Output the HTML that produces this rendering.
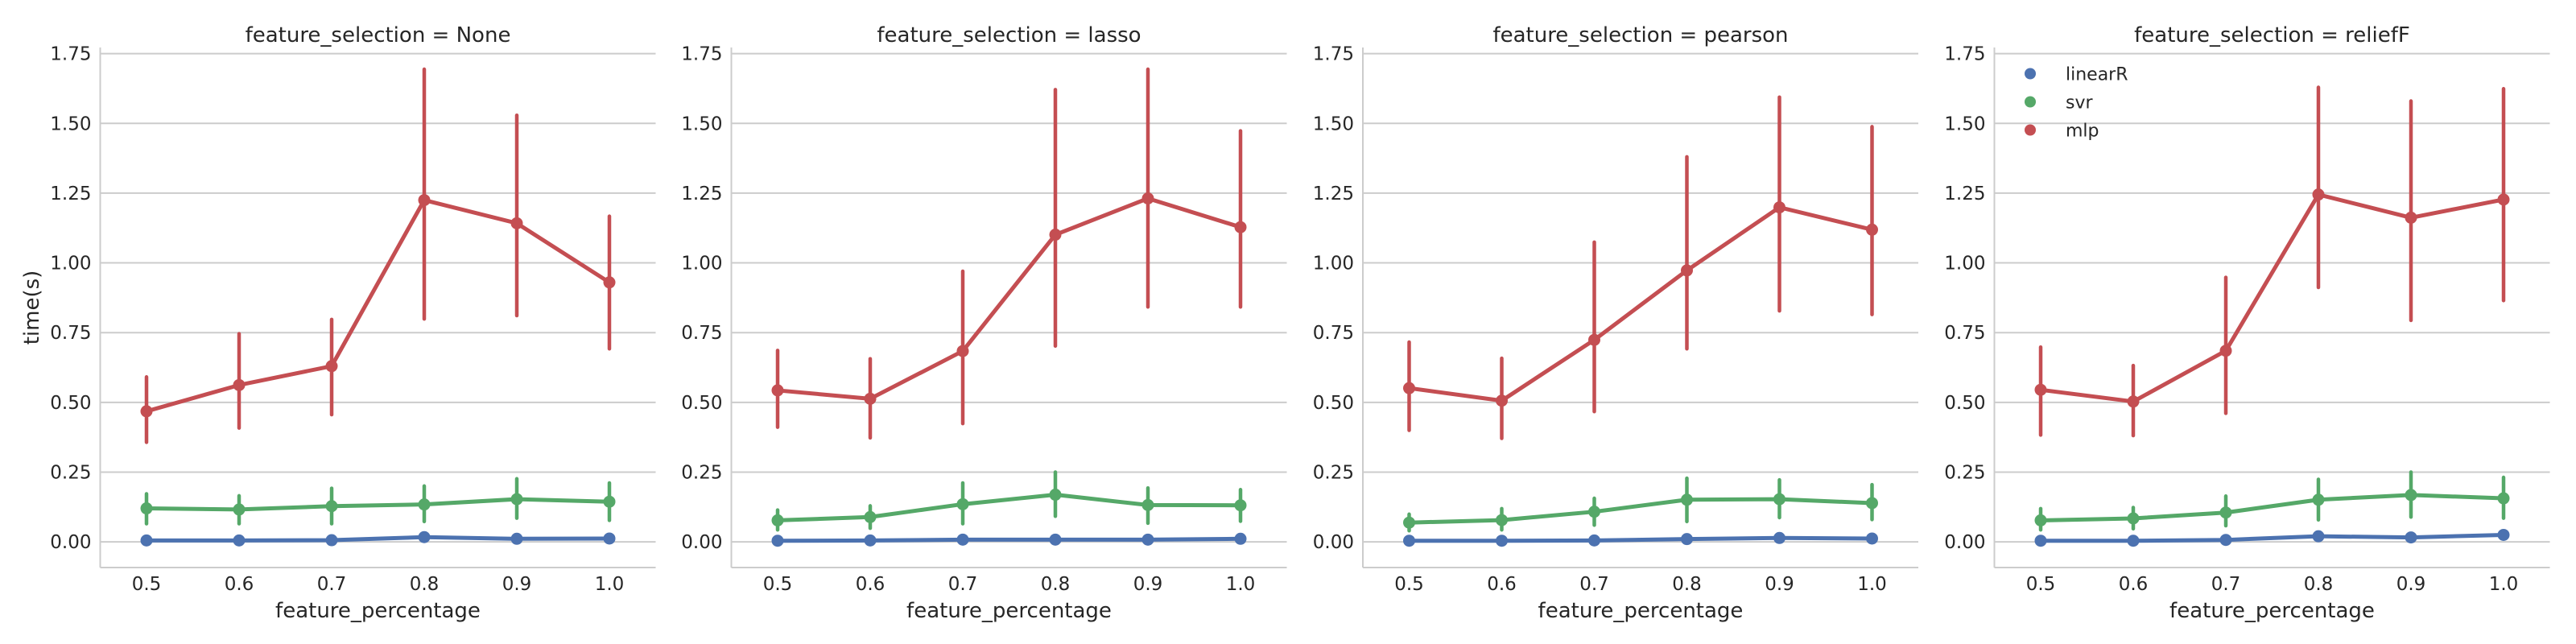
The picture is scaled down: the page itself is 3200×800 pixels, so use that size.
<!DOCTYPE html>
<html><head><meta charset="utf-8">
<style>
html,body{margin:0;padding:0;background:#fff;}
svg{display:block;font-family:"DejaVu Sans","Liberation Sans",sans-serif;}
</style></head>
<body>
<svg id="chart" width="3200" height="800" viewBox="0 0 3200 800" xmlns="http://www.w3.org/2000/svg"></svg>
<script>
const categories = ["0.5","0.6","0.7","0.8","0.9","1.0"];
const panelTitles = ["feature_selection = None","feature_selection = lasso","feature_selection = pearson","feature_selection = reliefF"];
const seriesNames = ["linearR","svr","mlp"];
const yTicks = [0,0.25,0.5,0.75,1.0,1.25,1.5,1.75];
const yTickLabels = ["0.00","0.25","0.50","0.75","1.00","1.25","1.50","1.75"];

// panel None
const p0_linearR = [0.005,0.005,0.006,0.017,0.011,0.012];
const p0_svr = [0.120,0.116,0.128,0.134,0.153,0.144];
const p0_svr_lo = [0.065,0.065,0.065,0.073,0.085,0.077];
const p0_svr_hi = [0.172,0.165,0.192,0.200,0.226,0.211];
const p0_mlp = [0.468,0.562,0.630,1.225,1.142,0.930];
const p0_mlp_lo = [0.357,0.408,0.456,0.799,0.811,0.692];
const p0_mlp_hi = [0.591,0.746,0.797,1.694,1.529,1.167];
// panel lasso
const p1_linearR = [0.004,0.005,0.008,0.008,0.008,0.011];
const p1_svr = [0.077,0.089,0.135,0.169,0.132,0.131];
const p1_svr_lo = [0.043,0.049,0.065,0.092,0.067,0.074];
const p1_svr_hi = [0.114,0.129,0.211,0.250,0.193,0.187];
const p1_mlp = [0.543,0.513,0.684,1.101,1.231,1.128];
const p1_mlp_lo = [0.411,0.373,0.424,0.702,0.842,0.842];
const p1_mlp_hi = [0.686,0.656,0.970,1.621,1.694,1.473];
// panel pearson
const p2_linearR = [0.004,0.004,0.005,0.010,0.014,0.012];
const p2_svr = [0.069,0.078,0.108,0.151,0.153,0.139];
const p2_svr_lo = [0.040,0.043,0.060,0.073,0.087,0.080];
const p2_svr_hi = [0.099,0.119,0.156,0.228,0.222,0.205];
const p2_mlp = [0.551,0.506,0.724,0.973,1.199,1.119];
const p2_mlp_lo = [0.400,0.371,0.467,0.692,0.828,0.815];
const p2_mlp_hi = [0.716,0.658,1.074,1.380,1.594,1.488];
// panel reliefF
const p3_linearR = [0.004,0.004,0.007,0.020,0.016,0.025];
const p3_svr = [0.077,0.084,0.105,0.151,0.168,0.156];
const p3_svr_lo = [0.043,0.047,0.058,0.079,0.089,0.085];
const p3_svr_hi = [0.119,0.123,0.164,0.224,0.250,0.231];
const p3_mlp = [0.545,0.503,0.685,1.245,1.162,1.227];
const p3_mlp_lo = [0.383,0.381,0.461,0.912,0.794,0.865];
const p3_mlp_hi = [0.698,0.632,0.948,1.629,1.580,1.624];

const panels = [
  {lin:p0_linearR, svr:p0_svr, svrLo:p0_svr_lo, svrHi:p0_svr_hi, mlp:p0_mlp, mlpLo:p0_mlp_lo, mlpHi:p0_mlp_hi},
  {lin:p1_linearR, svr:p1_svr, svrLo:p1_svr_lo, svrHi:p1_svr_hi, mlp:p1_mlp, mlpLo:p1_mlp_lo, mlpHi:p1_mlp_hi},
  {lin:p2_linearR, svr:p2_svr, svrLo:p2_svr_lo, svrHi:p2_svr_hi, mlp:p2_mlp, mlpLo:p2_mlp_lo, mlpHi:p2_mlp_hi},
  {lin:p3_linearR, svr:p3_svr, svrLo:p3_svr_lo, svrHi:p3_svr_hi, mlp:p3_mlp, mlpLo:p3_mlp_lo, mlpHi:p3_mlp_hi}
];

const svg = document.getElementById('chart');
const NS = 'http://www.w3.org/2000/svg';
const colors = {linearR:'#4C72B0', svr:'#55A868', mlp:'#C44E52'};
const panelLeft = [124.5, 908.5, 1693, 2477.5];
const panelW = 690, axTop = 59, axBottom = 705;
const yMin = -0.092, yMax = 1.772;
function yScale(v){ return axBottom - (v - yMin) / (yMax - yMin) * (axBottom - axTop); }
function xScale(p, i){ const step = panelW / categories.length; return panelLeft[p] + step * (i + 0.5); }
function mk(tag, attrs, parent){ const e = document.createElementNS(NS, tag); for (const k in attrs) e.setAttribute(k, attrs[k]); (parent||svg).appendChild(e); return e; }

panels.forEach((pd, p) => {
  const g = mk('g', {});
  
  
  const L = panelLeft[p], R = L + panelW;
  yTicks.forEach((t, k) => {
    const y = yScale(t);
    const gl = mk('line', {x1:L, x2:R, y1:y, y2:y, stroke:'#cccccc', 'stroke-width':2}, g);
    
    
    const tl = mk('text', {x:L-11, y:y+8, 'text-anchor':'end', 'font-size':23, fill:'#262626'}, g);
    tl.textContent = yTickLabels[k];
    
    
  });
  const ls = mk('line', {x1:L, x2:L, y1:axTop, y2:axBottom, stroke:'#cccccc', 'stroke-width':2}, g);
  
  
  const bs = mk('line', {x1:L, x2:R, y1:axBottom, y2:axBottom, stroke:'#cccccc', 'stroke-width':2}, g);
  
  
  categories.forEach((c, i) => {
    const tx = mk('text', {x:xScale(p,i), y:733, 'text-anchor':'middle', 'font-size':23, fill:'#262626'}, g);
    tx.textContent = c;
    
    
  });
  const xl = mk('text', {x:L+panelW/2, y:767, 'text-anchor':'middle', 'font-size':26, fill:'#262626'}, g);
  xl.textContent = 'feature_percentage';
  
  
  const ti = mk('text', {x:L+panelW/2, y:52, 'text-anchor':'middle', 'font-size':26, fill:'#262626'}, g);
  ti.textContent = panelTitles[p];
  
  

  const series = [
    {name:'linearR', v:pd.lin, lo:null, hi:null},
    {name:'svr', v:pd.svr, lo:pd.svrLo, hi:pd.svrHi},
    {name:'mlp', v:pd.mlp, lo:pd.mlpLo, hi:pd.mlpHi}
  ];
  series.forEach(s => {
    const col = colors[s.name];
    if (s.lo) {
      s.v.forEach((v, i) => {
        const eb = mk('line', {x1:xScale(p,i), x2:xScale(p,i), y1:yScale(s.lo[i]), y2:yScale(s.hi[i]), stroke:col, 'stroke-width':4.5, 'stroke-linecap':'round'}, g);
        
        
      });
    }
    const pts = s.v.map((v, i) => xScale(p,i) + ',' + yScale(v)).join(' ');
    const pl = mk('polyline', {points:pts, fill:'none', stroke:col, 'stroke-width':5, 'stroke-linejoin':'round'}, g);
    
    
    s.v.forEach((v, i) => {
      const c = mk('circle', {cx:xScale(p,i), cy:yScale(v), r:7.5, fill:col}, g);
      
      
    });
  });
});

const yl = mk('text', {x:0, y:0, 'text-anchor':'middle', 'font-size':26, fill:'#262626', transform:'translate(48,382) rotate(-90)'});
yl.textContent = 'time(s)';



const lg = mk('g', {});


seriesNames.forEach((n, k) => {
  const y = 91.5 + k * 35;
  const m = mk('circle', {cx:2522, cy:y, r:7, fill:colors[n]}, lg);
  
  
  const t = mk('text', {x:2566, y:y+8, 'font-size':22, fill:'#262626'}, lg);
  t.textContent = n;
  
  
});
</script>
</body></html>
